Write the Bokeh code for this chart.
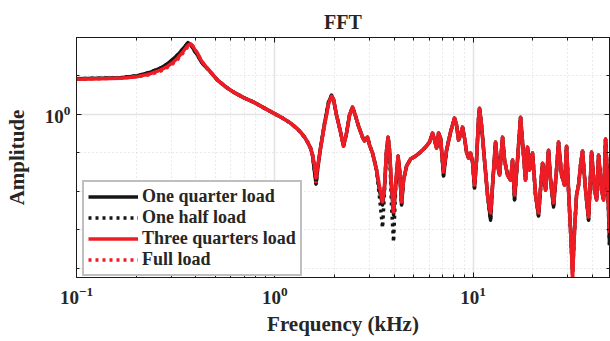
from bokeh.plotting import figure
from bokeh.models import FixedTicker, LogAxis, Range1d, Legend, LegendItem
from bokeh.embed import file_html
from bokeh.resources import INLINE

# ---------------- data ----------------
freq_khz = [0.100, 0.132, 0.167, 0.203, 0.236, 0.265, 0.288, 0.305, 0.323, 0.338,
            0.355, 0.365, 0.376, 0.385, 0.394, 0.408, 0.422, 0.437, 0.463, 0.491,
            0.514, 0.564, 0.619, 0.696, 0.781, 0.877, 0.985, 1.093, 1.200, 1.286,
            1.348, 1.412, 1.462, 1.514, 1.549, 1.586, 1.614, 1.642, 1.700, 1.781,
            1.866, 1.932, 1.977, 2.047, 2.145, 2.221, 2.299, 2.381, 2.465, 2.553,
            2.643, 2.768, 2.833, 2.934, 3.003, 3.110, 3.258, 3.373, 3.493, 3.575,
            3.659, 3.724, 3.788, 3.878, 3.969, 4.062, 4.182, 4.256, 4.355, 4.457,
            4.615, 4.834, 5.123, 5.429, 5.754, 6.027, 6.242, 6.389, 6.539, 6.693,
            6.851, 7.093, 7.345, 7.691, 8.056, 8.245, 8.439, 8.637, 8.840, 9.048,
            9.262, 9.480, 9.703, 9.931, 10.16, 10.40, 10.65, 10.77, 11.02, 11.41,
            11.82, 12.24, 12.53, 12.97, 13.28, 13.59, 14.07, 14.40, 14.91, 15.44,
            15.80, 16.17, 16.74, 17.34, 17.95, 18.37, 18.80, 19.25, 19.93, 20.64,
            21.37, 22.13, 22.39, 23.18, 24.00, 24.56, 25.43, 26.33, 26.95, 27.91,
            28.90, 29.58, 30.27, 30.98, 31.71, 32.45, 33.22, 34.00, 34.80, 35.61,
            36.88, 38.19, 39.09, 39.55, 40.95, 41.92, 42.90, 44.42, 45.47, 46.53,
            47.62, 48.73]

one_quarter = [1.535, 1.544, 1.553, 1.591, 1.659, 1.740, 1.836, 1.927, 2.033, 2.145,
               2.277, 2.360, 2.305, 2.223, 2.133, 2.033, 1.904, 1.814, 1.709, 1.591,
               1.507, 1.394, 1.306, 1.223, 1.159, 1.085, 1.016, 0.957, 0.901, 0.849,
               0.809, 0.762, 0.718, 0.668, 0.615, 0.502, 0.434, 0.514, 0.668, 0.900,
               1.159, 1.260, 1.190, 0.992, 0.809, 0.684, 0.800, 0.992, 1.091, 0.980,
               0.869, 0.762, 0.727, 0.762, 0.693, 0.630, 0.514, 0.400, 0.338, 0.420,
               0.652, 0.762, 0.652, 0.410, 0.300, 0.420, 0.607, 0.514, 0.338, 0.456,
               0.539, 0.586, 0.607, 0.637, 0.676, 0.718, 0.800, 0.735, 0.668, 0.800,
               0.753, 0.478, 0.652, 0.809, 0.957, 0.880, 0.735, 0.781, 0.859, 0.753,
               0.637, 0.593, 0.630, 0.565, 0.414, 0.579, 0.957, 1.078, 0.880, 0.579,
               0.381, 0.282, 0.429, 0.718, 0.545, 0.484, 0.762, 0.579, 0.484, 0.456,
               0.579, 0.359, 0.579, 0.968, 0.615, 0.456, 0.676, 0.514, 0.630, 0.381,
               0.296, 0.484, 0.558, 0.404, 0.652, 0.456, 0.330, 0.514, 0.718, 0.484,
               0.429, 0.684, 0.404, 0.251, 0.152, 0.251, 0.381, 0.429, 0.545, 0.645,
               0.404, 0.282, 0.484, 0.637, 0.404, 0.359, 0.615, 0.404, 0.359, 0.744,
               0.456, 0.209]

one_half = [1.535, 1.544, 1.553, 1.591, 1.659, 1.740, 1.836, 1.927, 2.033, 2.145,
            2.277, 2.360, 2.305, 2.223, 2.133, 2.033, 1.904, 1.814, 1.709, 1.591,
            1.507, 1.394, 1.306, 1.223, 1.159, 1.085, 1.016, 0.957, 0.901, 0.849,
            0.809, 0.762, 0.718, 0.668, 0.615, 0.502, 0.434, 0.514, 0.668, 0.900,
            1.159, 1.260, 1.190, 0.992, 0.809, 0.684, 0.800, 0.992, 1.091, 0.980,
            0.869, 0.762, 0.727, 0.762, 0.693, 0.630, 0.514, 0.370, 0.257, 0.400,
            0.652, 0.762, 0.652, 0.330, 0.217, 0.400, 0.607, 0.514, 0.338, 0.456,
            0.539, 0.586, 0.607, 0.637, 0.676, 0.718, 0.800, 0.735, 0.668, 0.800,
            0.753, 0.478, 0.652, 0.809, 0.957, 0.880, 0.735, 0.781, 0.859, 0.753,
            0.637, 0.593, 0.630, 0.565, 0.414, 0.579, 0.957, 1.078, 0.880, 0.579,
            0.381, 0.282, 0.429, 0.718, 0.545, 0.484, 0.762, 0.579, 0.484, 0.456,
            0.579, 0.359, 0.579, 0.968, 0.615, 0.456, 0.676, 0.514, 0.630, 0.381,
            0.296, 0.484, 0.558, 0.404, 0.652, 0.456, 0.330, 0.514, 0.718, 0.484,
            0.429, 0.684, 0.404, 0.251, 0.152, 0.251, 0.381, 0.429, 0.545, 0.645,
            0.404, 0.282, 0.484, 0.637, 0.404, 0.359, 0.615, 0.404, 0.359, 0.744,
            0.456, 0.209]

three_quarters = [1.525, 1.535, 1.544, 1.572, 1.629, 1.699, 1.781, 1.858, 1.961, 2.069,
                  2.210, 2.291, 2.333, 2.277, 2.184, 2.082, 1.938, 1.836, 1.709, 1.591,
                  1.507, 1.394, 1.306, 1.223, 1.159, 1.085, 1.016, 0.957, 0.901, 0.849,
                  0.809, 0.762, 0.718, 0.668, 0.615, 0.545, 0.467, 0.526, 0.668, 0.880,
                  1.131, 1.245, 1.201, 0.992, 0.809, 0.684, 0.800, 0.992, 1.091, 0.980,
                  0.869, 0.762, 0.727, 0.762, 0.693, 0.630, 0.514, 0.419, 0.350, 0.429,
                  0.652, 0.762, 0.652, 0.429, 0.311, 0.429, 0.607, 0.514, 0.350, 0.456,
                  0.539, 0.586, 0.607, 0.637, 0.676, 0.718, 0.800, 0.735, 0.668, 0.800,
                  0.753, 0.502, 0.652, 0.809, 0.957, 0.880, 0.735, 0.781, 0.859, 0.753,
                  0.637, 0.593, 0.630, 0.565, 0.429, 0.579, 0.957, 1.078, 0.880, 0.579,
                  0.381, 0.307, 0.429, 0.718, 0.545, 0.484, 0.762, 0.579, 0.484, 0.456,
                  0.579, 0.381, 0.579, 0.968, 0.615, 0.456, 0.676, 0.514, 0.630, 0.381,
                  0.307, 0.484, 0.558, 0.404, 0.652, 0.456, 0.346, 0.514, 0.718, 0.484,
                  0.429, 0.684, 0.404, 0.251, 0.140, 0.251, 0.381, 0.429, 0.545, 0.645,
                  0.404, 0.293, 0.484, 0.637, 0.404, 0.359, 0.615, 0.404, 0.359, 0.744,
                  0.456, 0.242]

full_load = [1.525, 1.535, 1.544, 1.572, 1.610, 1.680, 1.760, 1.830, 1.930, 2.040,
             2.170, 2.260, 2.310, 2.270, 2.180, 2.082, 1.938, 1.836, 1.709, 1.591,
             1.507, 1.394, 1.306, 1.223, 1.159, 1.085, 1.016, 0.957, 0.901, 0.849,
             0.809, 0.762, 0.718, 0.668, 0.615, 0.530, 0.440, 0.526, 0.668, 0.880,
             1.131, 1.245, 1.201, 0.992, 0.809, 0.684, 0.800, 0.992, 1.091, 0.980,
             0.869, 0.762, 0.727, 0.762, 0.693, 0.630, 0.514, 0.419, 0.350, 0.429,
             0.652, 0.762, 0.652, 0.429, 0.311, 0.429, 0.607, 0.514, 0.350, 0.456,
             0.539, 0.586, 0.607, 0.637, 0.676, 0.718, 0.800, 0.735, 0.668, 0.800,
             0.753, 0.502, 0.652, 0.809, 0.957, 0.880, 0.735, 0.781, 0.859, 0.753,
             0.637, 0.593, 0.630, 0.565, 0.429, 0.579, 0.957, 1.078, 0.880, 0.579,
             0.381, 0.307, 0.429, 0.718, 0.545, 0.484, 0.762, 0.579, 0.484, 0.456,
             0.579, 0.381, 0.579, 0.968, 0.615, 0.456, 0.676, 0.514, 0.630, 0.381,
             0.307, 0.484, 0.558, 0.404, 0.652, 0.456, 0.346, 0.514, 0.718, 0.484,
             0.429, 0.684, 0.404, 0.251, 0.140, 0.251, 0.381, 0.429, 0.545, 0.645,
             0.404, 0.293, 0.484, 0.637, 0.404, 0.359, 0.615, 0.404, 0.359, 0.744,
             0.456, 0.242]

series_labels = ["One quarter load", "One half load", "Three quarters load", "Full load"]

x_limits = [0.1, 48.7]
y_limits = [0.1419, 2.512]
x_major_ticks = [0.1, 1.0, 10.0]
x_minor_ticks = [0.2, 0.3, 0.4, 0.5, 0.6, 0.7, 0.8, 0.9,
                 2, 3, 4, 5, 6, 7, 8, 9, 20, 30, 40]
y_major_ticks = [1.0]
y_minor_ticks = [1.585, 0.631, 0.398, 0.251, 0.158]

for s in (one_quarter, one_half, three_quarters, full_load):
    assert len(s) == len(freq_khz)

# ---------------- styling ----------------
FONT = "Liberation Serif"
TXT = "#262626"
RED = "#ee1c25"
BLACK = "#151515"

p = figure(width=610, height=341, x_axis_type="log", y_axis_type="log",
           x_range=Range1d(*x_limits), y_range=Range1d(*y_limits),
           output_backend="svg", toolbar_location=None,
           min_border_left=76, min_border_right=1, min_border_top=37,
           min_border_bottom=64)
p.background_fill_color = "white"
p.border_fill_color = "white"
p.outline_line_color = "#1a1a1a"
p.outline_line_width = 1

p.title.text = "FFT"
p.title.align = "center"
p.title.text_font = FONT
p.title.text_font_style = "bold"
p.title.text_font_size = "20px"
p.title.text_color = TXT
p.title.standoff = 9

x_ticker = FixedTicker(ticks=x_major_ticks, minor_ticks=x_minor_ticks)
y_ticker = FixedTicker(ticks=y_major_ticks, minor_ticks=y_minor_ticks)

p.xaxis.ticker = x_ticker
p.yaxis.ticker = y_ticker
p.xgrid.ticker = x_ticker
p.ygrid.ticker = y_ticker

for ax in (p.xaxis[0], p.yaxis[0]):
    ax.major_tick_in = 5
    ax.major_tick_out = 0
    ax.minor_tick_in = 3
    ax.minor_tick_out = 0
    ax.axis_line_color = "#1a1a1a"
    ax.major_tick_line_color = "#1a1a1a"
    ax.minor_tick_line_color = "#1a1a1a"
    ax.major_label_text_font = FONT
    ax.major_label_text_font_style = "bold"
    ax.major_label_text_font_size = "19px"
    ax.major_label_text_color = TXT
    ax.axis_label_text_font = FONT
    ax.axis_label_text_font_style = "bold"
    ax.axis_label_text_font_size = "21px"
    ax.axis_label_text_color = TXT

p.xaxis.axis_label = "Frequency (kHz)"
p.yaxis.axis_label = "Amplitude"
p.xaxis.major_label_standoff = 9
p.yaxis.major_label_standoff = 6
p.xaxis.axis_label_standoff = 5
p.yaxis.axis_label_standoff = 13

for g in (p.xgrid[0], p.ygrid[0]):
    g.grid_line_color = "#e3e3e3"
    g.grid_line_width = 1.5
    g.minor_grid_line_color = "#d4d4d4"
    g.minor_grid_line_dash = "1 3"
    g.minor_grid_line_width = 1

top_axis = LogAxis(ticker=x_ticker, major_label_text_font_size="1px",
                   major_label_text_alpha=0, major_label_standoff=0,
                   major_tick_in=5, major_tick_out=0,
                   minor_tick_in=3, minor_tick_out=0, axis_line_color="#1a1a1a",
                   major_tick_line_color="#1a1a1a", minor_tick_line_color="#1a1a1a")
right_axis = LogAxis(ticker=y_ticker, major_label_text_font_size="1px",
                     major_label_text_alpha=0, major_label_standoff=0,
                     major_tick_in=5, major_tick_out=0,
                     minor_tick_in=3, minor_tick_out=0, axis_line_color="#1a1a1a",
                     major_tick_line_color="#1a1a1a", minor_tick_line_color="#1a1a1a")
p.add_layout(top_axis, "above")
p.add_layout(right_axis, "right")

LW = 3.5
r1 = p.line(freq_khz, one_quarter, line_color=BLACK, line_width=LW, line_join="round")
r2 = p.line(freq_khz, one_half, line_color=BLACK, line_width=LW, line_dash="3 4")
r3 = p.line(freq_khz, three_quarters, line_color=RED, line_width=LW, line_join="round")
r4 = p.line(freq_khz, full_load, line_color=RED, line_width=LW, line_dash="3 4")

legend = Legend(items=[LegendItem(label=series_labels[0], renderers=[r1]),
                       LegendItem(label=series_labels[1], renderers=[r2]),
                       LegendItem(label=series_labels[2], renderers=[r3]),
                       LegendItem(label=series_labels[3], renderers=[r4])],
                location=(6, 1), margin=0, padding=4, spacing=0,
                glyph_width=50, glyph_height=21, label_height=21, label_width=153,
                label_standoff=4,
                label_text_font=FONT, label_text_font_style="bold",
                label_text_font_size="18px", label_text_color=TXT,
                border_line_color="#808080", border_line_width=2,
                background_fill_color="white", background_fill_alpha=1)
p.add_layout(legend)

open("out.html", "w").write(file_html(p, INLINE))
